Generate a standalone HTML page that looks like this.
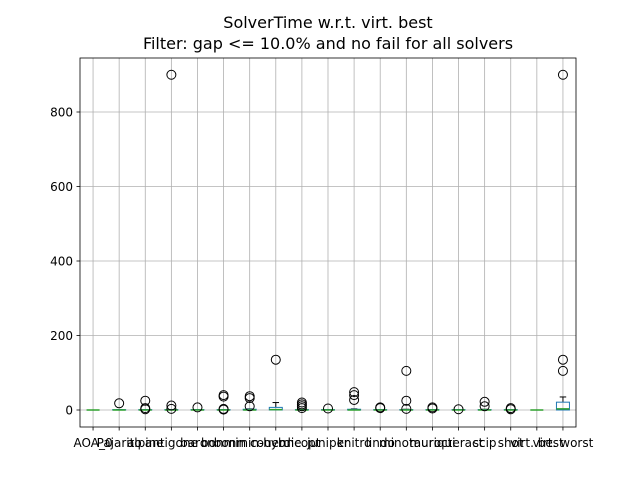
<!DOCTYPE html>
<html><head><meta charset="utf-8">
<style>body{margin:0;background:#fff}svg{display:block;font-family:"DejaVu Sans","Liberation Sans",sans-serif}</style>
</head><body>
<svg id="chart" width="640" height="480">
<text x="328" y="28" font-size="16" text-anchor="middle">SolverTime w.r.t. virt. best</text>
<text x="328" y="49" font-size="16" text-anchor="middle">Filter: gap &lt;= 10.0% and no fail for all solvers</text>
<g id="grid"></g><g id="marks"></g><g id="axes"></g>
</svg>
<script>
const categories=["AOA_0","Pajarito","alpine","antigone","baron","bonmin","bonmin-hyb","couenne","dicopt","juniper","knitro","lindo","minotaur","muriqui","octeract","scip","shot","virt. best","virt. worst"];
const q1=[0,0,0,0,0,0,0,0,0,0,0,0,0,0,0,0,0,0,0];
const medians=[0,0,0,0,0,0,0,1,0,0,0,0,0,0,0,0,0,0,3];
const q3=[0,1,1,1,1,1,2,7,1,1,2,1,1,1,1,1,1,0,21];
const whiskHi=[0,1,1,1,1,1,3,20,2,1,3,1,2,1,1,2,1,0,35];
const outliers=[[],[18],[25,5,2],[900,12,3],[7],[40,36,3,1],[37,32,10],[135],[20,15,10,5],[4],[48,40,27],[7,5],[105,25,3],[7,4],[2],[22,10],[5,2],[],[900,135,105]];
const yTicks=[0,200,400,600,800];
const L=80,R=576,T=58,B=427;
const NS="http://www.w3.org/2000/svg";
const x=i=>L+(i+0.5)*(R-L)/categories.length;
const y=v=>410-v*0.3725;
function mk(p,tag,a){const e=document.createElementNS(NS,tag);for(const k in a)e.setAttribute(k,a[k]);p.appendChild(e);return e;}
const grid=document.getElementById('grid'),marks=document.getElementById('marks'),axes=document.getElementById('axes');
categories.forEach((c,i)=>{const g=mk(grid,'line',{x1:x(i),x2:x(i),y1:T,y2:B,stroke:'#b0b0b0','stroke-width':0.8});
});
yTicks.forEach(v=>{const g=mk(grid,'line',{x1:L,x2:R,y1:y(v),y2:y(v),stroke:'#b0b0b0','stroke-width':0.8});

const t=mk(axes,'line',{x1:L-3.5,x2:L,y1:y(v),y2:y(v),stroke:'#000','stroke-width':0.8});

const tl=mk(axes,'text',{x:L-7,y:y(v)+4.5,'font-size':12,'text-anchor':'end'});tl.textContent=v;
});
categories.forEach((c,i)=>{const cx=x(i),w=13;
const g=mk(marks,'g',{});
mk(g,'line',{x1:cx,x2:cx,y1:y(q3[i]),y2:y(whiskHi[i]),stroke:'#000','stroke-width':1});
mk(g,'line',{x1:cx-w/4,x2:cx+w/4,y1:y(whiskHi[i]),y2:y(whiskHi[i]),stroke:'#000','stroke-width':1});
mk(g,'line',{x1:cx-w/4,x2:cx+w/4,y1:y(q1[i]),y2:y(q1[i]),stroke:'#000','stroke-width':1});
mk(g,'rect',{x:cx-w/2,y:y(q3[i]),width:w,height:Math.max(0,y(q1[i])-y(q3[i])),fill:'none',stroke:'#1f77b4','stroke-width':1});
mk(g,'line',{x1:cx-w/2,x2:cx+w/2,y1:y(medians[i]),y2:y(medians[i]),stroke:'#2ca02c','stroke-width':1.5});
outliers[i].forEach(v=>{const o=mk(g,'circle',{cx:cx,cy:y(v),r:4.5,fill:'none',stroke:'#000','stroke-width':1});
});
const t=mk(axes,'line',{x1:cx,x2:cx,y1:B,y2:B+3.5,stroke:'#000','stroke-width':0.8});

const tl=mk(axes,'text',{x:cx,y:B+20,'font-size':12,'text-anchor':'middle'});tl.textContent=c;
});
const fr=mk(axes,'rect',{x:L,y:T,width:R-L,height:B-T,fill:'none',stroke:'#000','stroke-width':0.8});

</script>
</body></html>
